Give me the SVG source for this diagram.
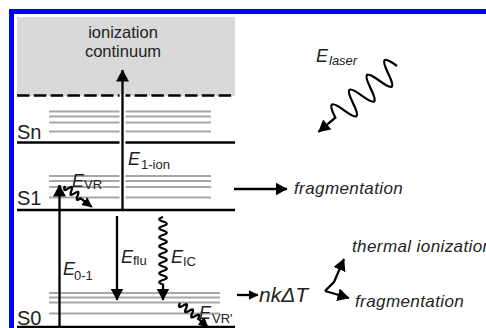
<svg xmlns="http://www.w3.org/2000/svg" width="486" height="328" viewBox="0 0 486 328">
<style>
.t{font-family:"Liberation Sans",Arial,sans-serif;fill:#222}
.it{font-style:italic}
.lvl{stroke:#000;stroke-width:2.4;fill:none}
.vib{stroke:#a6a6a6;stroke-width:1.9;fill:none}
.ar{stroke:#000;stroke-width:2.3;fill:none}
.e{font-size:18px;font-style:italic}
.sub{font-size:13px}
</style>
<defs>
<marker id="ah" viewBox="0 0 12 13" refX="11.5" refY="6.5" markerWidth="12" markerHeight="13" markerUnits="userSpaceOnUse" orient="auto"><path d="M0,0 L12,6.5 L0,13 z" fill="#000"/></marker>
<marker id="ahs" viewBox="0 0 10 10" refX="9.5" refY="5" markerWidth="10" markerHeight="10" markerUnits="userSpaceOnUse" orient="auto"><path d="M0,0 L10,5 L0,10 z" fill="#000"/></marker>
</defs>
<rect x="0" y="0" width="486" height="328" fill="#fff"/>
<rect x="11.5" y="11.5" width="490" height="330" fill="#fff" stroke="#0000ff" stroke-width="5"/>

<g id="continuum">
<rect x="17" y="17" width="218" height="79" fill="#d9d9d9"/>
<text class="t" x="123" y="38" font-size="16.5" text-anchor="middle" fill="#333">ionization</text>
<text class="t" x="123" y="57" font-size="16.5" text-anchor="middle" fill="#333">continuum</text>
<line x1="17" y1="95.5" x2="235" y2="95.5" stroke="#000" stroke-width="2.6" stroke-dasharray="12.5 4.3"/>
</g>

<g id="Sn">
<line class="vib" x1="49" y1="111.5" x2="211" y2="111.5"/>
<line class="vib" x1="49" y1="116.5" x2="211" y2="116.5"/>
<line class="vib" x1="49" y1="122.5" x2="211" y2="122.5"/>
<line class="vib" x1="49" y1="131.5" x2="211" y2="131.5"/>
<line class="lvl" x1="17" y1="142.5" x2="235" y2="142.5"/>
<text class="t" x="17" y="139" font-size="20">Sn</text>
</g>

<g id="S1">
<line class="vib" x1="49" y1="176" x2="211" y2="176"/>
<line class="vib" x1="49" y1="181" x2="211" y2="181"/>
<line class="vib" x1="49" y1="187" x2="211" y2="187"/>
<line class="vib" x1="49" y1="197.5" x2="211" y2="197.5"/>
<line class="lvl" x1="17" y1="210" x2="235" y2="210"/>
<text class="t" x="17" y="205" font-size="20">S1</text>
</g>

<g id="S0">
<line class="vib" x1="49" y1="293" x2="220" y2="293"/>
<line class="vib" x1="49" y1="297.5" x2="220" y2="297.5"/>
<line class="vib" x1="49" y1="302.5" x2="220" y2="302.5"/>
<line class="vib" x1="49" y1="313.5" x2="220" y2="313.5"/>
<line class="lvl" x1="17" y1="327" x2="235" y2="327"/>
<text class="t" x="17" y="325" font-size="20">S0</text>
</g>

<g id="connectors">
<line x1="122.5" y1="94" x2="122.5" y2="206" stroke="#fff" stroke-width="6"/>
<line class="ar" x1="122.5" y1="209" x2="122.5" y2="70" marker-end="url(#ah)"/>
<line class="ar" x1="59.5" y1="330" x2="59.5" y2="185" marker-end="url(#ah)"/>
<line class="ar" x1="117" y1="216" x2="117" y2="300" marker-end="url(#ah)"/>
<path class="ar" transform="translate(163,217) rotate(90)" d="M0,0 c1.6,5 2.9,5 4.5,0 s2.9,-5 4.5,0 s2.9,5 4.5,0 s2.9,-5 4.5,0 s2.9,5 4.5,0 s2.9,-5 4.5,0 s2.9,5 4.5,0 s2.9,-5 4.5,0 s2.9,5 4.5,0 s2.9,-5 4.5,0 s2.9,5 4.5,0 s2.9,-5 4.5,0 s2.9,5 4.5,0 s2.9,-5 4.5,0 s2.9,5 4.5,0 l15.5,0" marker-end="url(#ah)"/>
<path class="ar" transform="translate(65,186) rotate(38)" d="M0,0 c1.4,4.5 2.6,4.5 4,0 s2.6,-4.5 4,0 s2.6,4.5 4,0 s2.6,-4.5 4,0 s2.6,4.5 4,0 l14,0" marker-end="url(#ahs)"/>
<path class="ar" transform="translate(180,303) rotate(40.6)" d="M0,0 c1.4,4.5 2.6,4.5 4,0 s2.6,-4.5 4,0 s2.6,4.5 4,0 s2.6,-4.5 4,0 s2.6,4.5 4,0 s2.6,-4.5 4,0 l13,0" marker-end="url(#ahs)"/>
<path class="ar" stroke-width="2.7" transform="translate(397,66) rotate(140)" d="M0,0 c4.1,16.5 7.4,16.5 11.5,0 s7.4,-16.5 11.5,0 s7.4,16.5 11.5,0 s7.4,-16.5 11.5,0 s7.4,16.5 11.5,0 s7.4,-16.5 11.5,0 s7.4,16.5 11.5,0 l22,0" marker-end="url(#ah)"/>
<line class="ar" x1="234" y1="189" x2="287" y2="189" marker-end="url(#ah)"/>
<line class="ar" x1="237" y1="295" x2="258" y2="295" marker-end="url(#ahs)"/>
<polyline class="ar" points="325,291 334,282 344,259" marker-end="url(#ah)"/>
<line class="ar" x1="325" y1="291" x2="349" y2="298" marker-end="url(#ah)"/>
</g>

<g id="labels">
<text class="t e" x="128" y="165">E</text><text class="t sub" x="141" y="169">1-ion</text>
<text class="t e" x="72" y="187">E</text><text class="t sub" x="84" y="189">VR</text>
<text class="t e" x="63" y="275">E</text><text class="t sub" x="74" y="280">0-1</text>
<text class="t e" x="121" y="263">E</text><text class="t sub" x="133" y="265">flu</text>
<text class="t e" x="171" y="263">E</text><text class="t sub" x="183" y="266">IC</text>
<text class="t e" x="199" y="319">E</text><text class="t sub" x="212" y="323">VR'</text>
<text class="t e" x="316" y="62" font-size="17">E</text><text class="t sub it" x="329" y="64.5">laser</text>
<text class="t it" x="294" y="194" font-size="17" letter-spacing="0.4" fill="#333">fragmentation</text>
<text class="t it" x="259" y="302" font-size="21">nkΔT</text>
<text class="t it" x="352" y="252" font-size="17" letter-spacing="0.4" fill="#333">thermal ionization</text>
<text class="t it" x="355" y="307" font-size="17" letter-spacing="0.4" fill="#333">fragmentation</text>
</g>
</svg>
